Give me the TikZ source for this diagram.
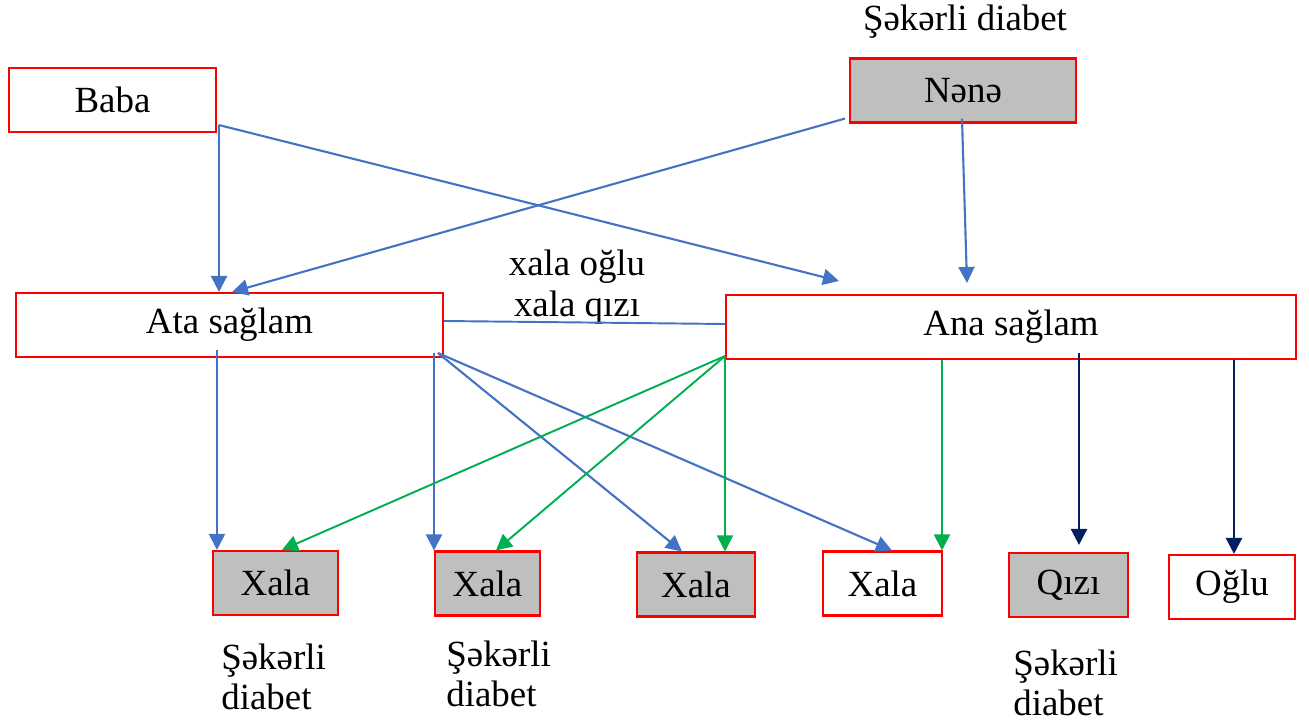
\documentclass[tikz,border=0pt]{standalone}
\usepackage{fontspec}
\setmainfont{Liberation Serif}
\usetikzlibrary{arrows.meta,calc,positioning}

\definecolor{lineblue}{HTML}{4472C4}
\definecolor{linegreen}{HTML}{00B050}
\definecolor{linenavy}{HTML}{002060}
\definecolor{sickgrey}{HTML}{BFBFBF}

\begin{document}
\begin{tikzpicture}[x=0.02cm,y=-0.02cm,
        font=\fontsize{21}{23}\selectfont,
        box/.style={draw=red,line width=1.2pt,inner sep=0pt,minimum height=1.28cm},
        sick box/.style={box,fill=sickgrey},
        note/.style={align=left,inner sep=0pt},
        blue arrow/.style={lineblue,line width=1.2pt,-{Triangle[length=0.32cm,width=0.32cm]}},
        green arrow/.style={linegreen,line width=1.1pt,-{Triangle[length=0.32cm,width=0.32cm]}},
        navy arrow/.style={linenavy,line width=1.4pt,-{Triangle[length=0.32cm,width=0.32cm]}}]

    \useasboundingbox (0,0) rectangle (1309,722);

    % grandparents
    \node[box,minimum width=4.14cm] (baba) at (112.5,100) {Baba};
    \node[sick box,minimum width=4.52cm] (nene) at (963,90.5) {Nənə};
    \node (nenenote) at (965,22) {Şəkərli diabet};

    % parents
    \node[box,minimum width=8.54cm] (ata) at (229.5,325) {Ata sağlam};
    \node[box,minimum width=11.4cm] (ana) at (1011,327) {Ana sağlam};
    \node[align=center,inner sep=0pt] (cousins) at (577,287) {xala oğlu\\xala qızı};

    % children
    \node[sick box,minimum width=2.5cm] (x1) at (275.5,583) {Xala};
    \node[sick box,minimum width=2.1cm] (x2) at (487.5,583.5) {Xala};
    \node[sick box,minimum width=2.36cm] (x3) at (696,584.5) {Xala};
    \node[box,minimum width=2.38cm] (x4) at (882.5,583.5) {Xala};
    \node[sick box,minimum width=2.38cm] (qizi) at (1068.5,585) {Qızı};
    \node[box,minimum width=2.52cm] (oglu) at (1232,587) {Oğlu};

    \node[note,anchor=west] (x1note) at (221,677) {Şəkərli\\diabet};
    \node[note,anchor=west] (x2note) at (446,674) {Şəkərli\\diabet};
    \node[note,anchor=west] (qizinote) at (1013,683) {Şəkərli\\diabet};

    % start points of the lines
    \coordinate (babaout) at ($(baba.south east)+(2,-8)$);
    \coordinate (nenein) at ($(nene.south west)+(-4,-5)$);
    \coordinate (neneout) at ($(nene.south)+(-1,-5)$);
    \coordinate (atadown) at ($(ata.south west)+(202,-8)$);
    \coordinate (ataright) at ($(ata.south east)+(-10,-5)$);
    \coordinate (atacross) at ($(ata.south east)+(-6,-5)$);
    \coordinate (anacorner) at ($(ana.south west)+(0,-4)$);
    \coordinate (anamid) at ($(ana.south west)+(217,0)$);
    \coordinate (anagirl) at ($(ana.south west)+(354,-7)$);
    \coordinate (anaboy) at ($(ana.south west)+(509,0)$);

    % from grandparents
    \draw[blue arrow] (babaout) -- (babaout |- ata.north);
    \draw[blue arrow] (babaout) -- ($(ana.north west)+(114,-13)$);
    \draw[blue arrow] (nenein) -- ($(ata.north west)+(217,0)$);
    \draw[blue arrow] (neneout) -- ($(ana.north west)+(242,-11)$);

    % between parents
    \draw[lineblue,line width=1.1pt] ($(ata.east)+(0,-4)$) -- ($(ana.west)+(0,-3)$);

    % from Ata
    \draw[blue arrow] (atadown) -- (atadown |- x1.north);
    \draw[blue arrow] (ataright) -- (ataright |- x2.north);
    \draw[blue arrow] (atacross) -- ($(x3.north west)+(46,0)$);
    \draw[blue arrow] (atacross) -- ($(x4.north west)+(70,0)$);

    % from Ana
    \draw[green arrow] (anacorner) -- ($(x1.north west)+(70,0)$);
    \draw[green arrow] (anacorner) -- ($(x2.north west)+(62,0)$);
    \draw[green arrow] (anacorner) -- (anacorner |- x3.north);
    \draw[green arrow] (anamid) -- (anamid |- x4.north);
    \draw[navy arrow] (anagirl) -- ($(anagirl |- qizi.north)+(0,-7)$);
    \draw[navy arrow] (anaboy) -- (anaboy |- oglu.north);
\end{tikzpicture}
\end{document}
